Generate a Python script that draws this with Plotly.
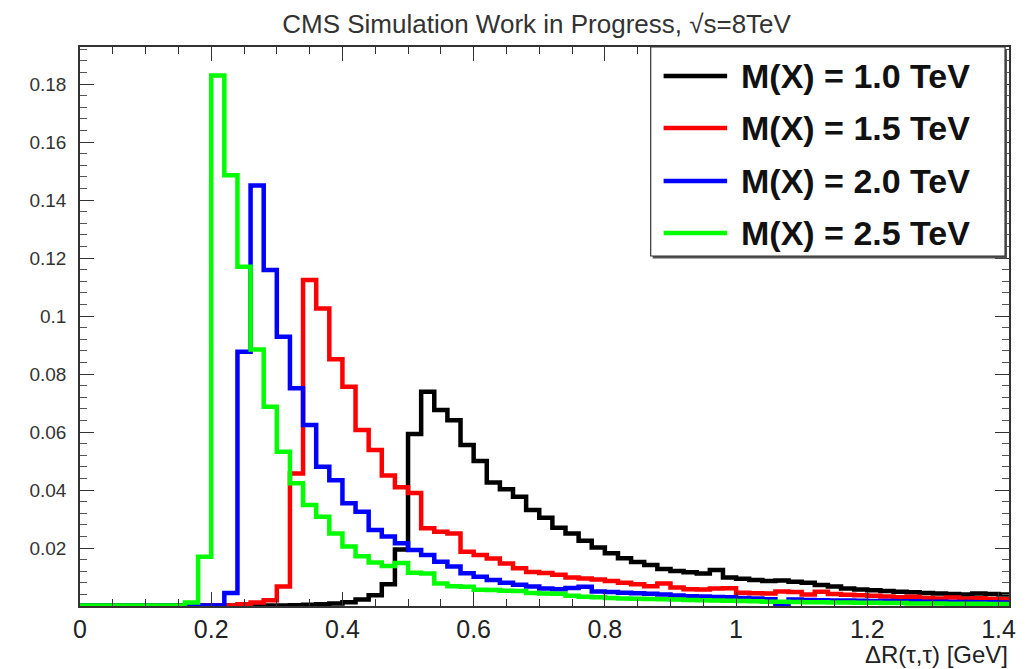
import plotly.graph_objects as go

bin_width = 0.02
n_bins = 71
bin_edges = [round(i * bin_width, 2) for i in range(n_bins + 1)]

labels = ["M(X) = 1.0 TeV", "M(X) = 1.5 TeV", "M(X) = 2.0 TeV", "M(X) = 2.5 TeV"]
colors = ["#000000", "#ff0000", "#0000ff", "#00ff00"]

black_1p0 = [0.0002] * 16 + [
    0.0003, 0.0004, 0.0006, 0.0009, 0.0013, 0.0022, 0.0037, 0.0075, 0.0195, 0.0593,
    0.0739, 0.0676, 0.0641, 0.0555, 0.0500, 0.0426, 0.0403, 0.0377, 0.0331, 0.0304,
    0.0270, 0.0250, 0.0225, 0.0202, 0.0182, 0.0165, 0.0152, 0.0141, 0.0128, 0.0121,
    0.0116, 0.0112, 0.0124, 0.0098, 0.0094, 0.0090, 0.0086, 0.0088, 0.0084, 0.0080,
    0.0072, 0.0067, 0.0060, 0.0057, 0.0054, 0.0052, 0.0049, 0.0047, 0.0045, 0.0043,
    0.0041, 0.0040, 0.0043, 0.0041, 0.0040]

red_1p5 = [0.0002] * 12 + [
    0.0006, 0.0012, 0.0020, 0.0067, 0.0457, 0.1124, 0.1026, 0.0851, 0.0756, 0.0607,
    0.0538, 0.0450, 0.0410, 0.0390, 0.0268, 0.0256, 0.0250, 0.0187, 0.0176, 0.0164,
    0.0147, 0.0130, 0.0117, 0.0114, 0.0108, 0.0098, 0.0095, 0.0091, 0.0086, 0.0080,
    0.0075, 0.0068, 0.0078, 0.0064, 0.0058, 0.0057, 0.0060, 0.0061, 0.0046, 0.0044,
    0.0043, 0.0050, 0.0048, 0.0040, 0.0049, 0.0041, 0.0039, 0.0037, 0.0035, 0.0033,
    0.0030, 0.0032, 0.0028, 0.0026, 0.0029, 0.0025, 0.0027, 0.0024, 0.0023]

blue_2p0 = [0.0002] * 11 + [
    0.0045, 0.0877, 0.1450, 0.1159, 0.0929, 0.0751, 0.0624, 0.0480, 0.0434, 0.0354,
    0.0325, 0.0262, 0.0240, 0.0216, 0.0193, 0.0176, 0.0153, 0.0136, 0.0113, 0.0101,
    0.0090, 0.0080, 0.0073, 0.0067, 0.0060, 0.0058, 0.0062, 0.0066, 0.0050, 0.0048,
    0.0046, 0.0044, 0.0042, 0.0040, 0.0036, 0.0034, 0.0033, 0.0031, 0.0030, 0.0028,
    0.0026, 0.0023, 0.0004, 0.0022, 0.0021, 0.0020, 0.0019, 0.0019, 0.0018, 0.0017,
    0.0017, 0.0016, 0.0016, 0.0015, 0.0015, 0.0014, 0.0014, 0.0013, 0.0013, 0.0012]

green_2p5 = [0.0002] * 8 + [
    0.0012, 0.0170, 0.1830, 0.1486, 0.1170, 0.0885, 0.0687, 0.0532, 0.0423, 0.0348,
    0.0308, 0.0250, 0.0205, 0.0172, 0.0150, 0.0138, 0.0148, 0.0115, 0.0112, 0.0078,
    0.0068, 0.0066, 0.0056, 0.0055, 0.0053, 0.0052, 0.0045, 0.0043, 0.0042, 0.0035,
    0.0032, 0.0030, 0.0028, 0.0026, 0.0025, 0.0024, 0.0023, 0.0022, 0.0021, 0.0020,
    0.0019, 0.0018, 0.0017, 0.0016, 0.0015, 0.0015, 0.0014, 0.0013, 0.0013, 0.0012,
    0.0012, 0.0011, 0.0011, 0.0010, 0.0010, 0.0009, 0.0009, 0.0009, 0.0008, 0.0008,
    0.0008, 0.0007, 0.0007]

series = [black_1p0, red_1p5, blue_2p0, green_2p5]

x_tickvals = [0, 0.2, 0.4, 0.6, 0.8, 1.0, 1.2, 1.4]
x_ticktext = ["0", "0.2", "0.4", "0.6", "0.8", "1", "1.2", "1.4"]
y_tickvals = [0.02, 0.04, 0.06, 0.08, 0.10, 0.12, 0.14, 0.16, 0.18]
y_ticktext = ["0.02", "0.04", "0.06", "0.08", "0.1", "0.12", "0.14", "0.16", "0.18"]

fig = go.Figure()
for vals, name, col in zip(series, labels, colors):
    fig.add_trace(go.Scatter(
        x=bin_edges,
        y=vals + [vals[-1]],
        mode="lines",
        line=dict(color=col, width=4.5, shape="hv"),
        name=name,
        showlegend=False,
    ))

axis_font = "Liberation Sans, Arial, sans-serif"
fig.update_layout(
    width=1026, height=669,
    margin=dict(l=80, r=10, t=47, b=63),
    paper_bgcolor="white", plot_bgcolor="white",
    title=dict(text="CMS Simulation Work in Progress, √s=8TeV",
               x=0.523, xanchor="center", y=0.965, yanchor="middle",
               font=dict(family=axis_font, size=26, color="#333333")),
    xaxis=dict(range=[0, 1.416], showgrid=False, zeroline=False,
               showline=True, linecolor="#333333", linewidth=1.5, mirror="allticks",
               ticks="inside", ticklen=14, tickcolor="#333333", tickwidth=1,
               tickvals=x_tickvals, ticktext=x_ticktext, ticklabelstandoff=0,
               tickfont=dict(family=axis_font, size=25, color="#222222"),
               minor=dict(dtick=0.05, tick0=0, ticks="inside", ticklen=7, tickcolor="#333333")),
    yaxis=dict(range=[0, 0.1928], showgrid=False, zeroline=False,
               showline=True, linecolor="#333333", linewidth=1.5, mirror="allticks",
               ticks="inside", ticklen=14, tickcolor="#333333", tickwidth=1,
               tickvals=y_tickvals, ticktext=y_ticktext, ticklabelstandoff=8,
               tickfont=dict(family=axis_font, size=19, color="#333333"),
               minor=dict(dtick=0.004, tick0=0, ticks="inside", ticklen=7, tickcolor="#555555")),
)

# Legend box drawn in paper coordinates (plot area: x 80..1016 px, y 47..606 px)
def px_x(p):
    return (p - 80) / 936.0

def px_y(p):
    return (606 - p) / 559.0

# shadow
fig.add_shape(type="rect", xref="paper", yref="paper",
              x0=px_x(657), x1=px_x(1014), y0=px_y(258.5), y1=px_y(49),
              line=dict(width=0), fillcolor="#555555", layer="above")
fig.add_shape(type="rect", xref="paper", yref="paper",
              x0=px_x(655), x1=px_x(1012), y0=px_y(256), y1=px_y(47),
              line=dict(color="#333333", width=1.2), fillcolor="white", layer="above")

entry_y = [76, 128, 181, 233]
for lab, col, ey in zip(labels, colors, entry_y):
    fig.add_shape(type="line", xref="paper", yref="paper",
                  x0=px_x(668), x1=px_x(732), y0=px_y(ey), y1=px_y(ey),
                  line=dict(color=col, width=4.5), layer="above")
    fig.add_annotation(text="<b>" + lab + "</b>", xref="paper", yref="paper",
                       x=px_x(744), xanchor="left", y=px_y(ey), yanchor="middle",
                       showarrow=False,
                       font=dict(family=axis_font, size=34, color="#111111"))

fig.add_annotation(text="ΔR(τ,τ) [GeV]", xref="paper", yref="paper",
                   x=1.0, xanchor="right", y=px_y(669), yanchor="bottom", showarrow=False,
                   borderpad=0,
                   font=dict(family=axis_font, size=24, color="#222222"))

fig.write_html("out.html")
